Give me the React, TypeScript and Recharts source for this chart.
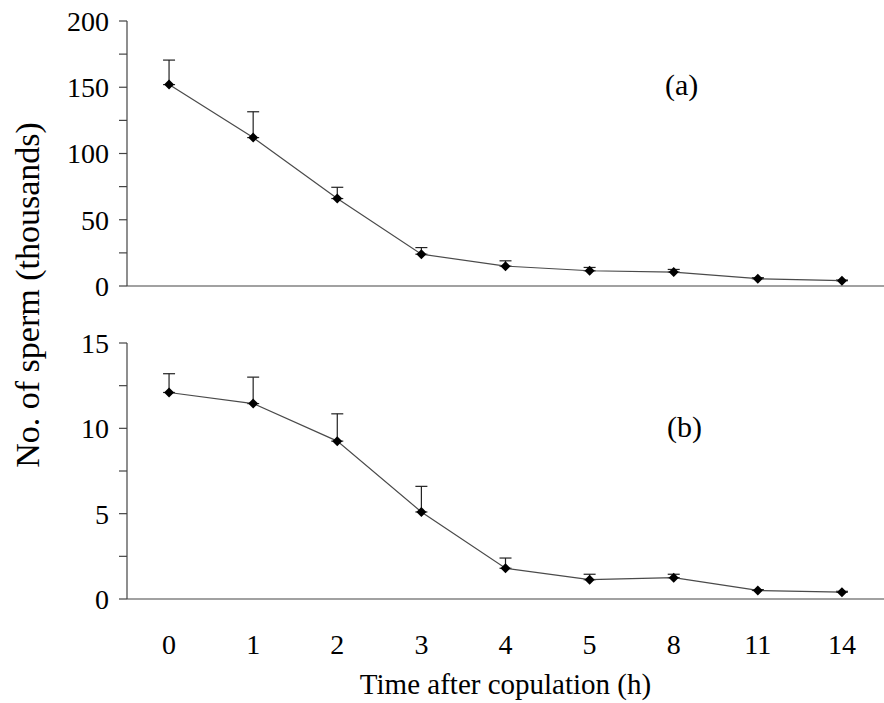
import { LineChart, Line, XAxis, YAxis, ErrorBar } from 'recharts';

// Hours after copulation (category labels along the bottom)
const hours = ['0', '1', '2', '3', '4', '5', '8', '11', '14'];

// Panel (a): sperm count, thousands, mean and +SE
const meanA = [152, 112, 66, 24, 15, 11.5, 10.5, 5.5, 4];
const errA = [18.5, 19.5, 8.5, 5, 4, 2.5, 2, 0.8, 0.5];

// Panel (b)
const meanB = [12.1, 11.45, 9.25, 5.1, 1.8, 1.13, 1.25, 0.5, 0.4];
const errB = [1.1, 1.55, 1.6, 1.5, 0.6, 0.32, 0.2, 0.05, 0.05];

const ticksA = [0, 25, 50, 75, 100, 125, 150, 175, 200];
const ticksB = [0, 2.5, 5, 7.5, 10, 12.5, 15];

const dataA = hours.map((h, i) => ({ idx: i, hour: h, mean: meanA[i], err: [0, errA[i]] }));
const dataB = hours.map((h, i) => ({ idx: i, hour: h, mean: meanB[i], err: [0, errB[i]] }));

// tick lines sit on the category boundaries, labels on the centres
const boundaryTicks = hours.map((_, i) => i - 0.5);
const centreTicks = hours.map((_, i) => i);

const FONT = '"Liberation Serif", "Times New Roman", serif';
const AXIS = '#444';

const Diamond = (props: any) => {
  const { cx, cy, index } = props;
  if (cx == null || cy == null) return null;
  const r = 5;
  return (
    <path
      key={`d-${index}`}
      d={`M${cx},${cy - r}L${cx + r},${cy}L${cx},${cy + r}L${cx - r},${cy}Z`}
      fill="#000"
      stroke="none"
    />
  );
};

function Panel({
  data,
  ticks,
  labelEvery,
  height,
  top,
  bottom,
  showLabels,
}: {
  data: any[];
  ticks: number[];
  labelEvery: number;
  height: number;
  top: number;
  bottom: number;
  showLabels: boolean;
}) {
  return (
    <LineChart
      width={884}
      height={height}
      data={data}
      margin={{ top, right: 0, left: 0, bottom }}
      style={{ fontFamily: FONT }}
    >
      <XAxis
        xAxisId="a_pos"
        dataKey="idx"
        type="number"
        domain={[-0.5, 8.5]}
        ticks={boundaryTicks}
        interval={0}
        tick={false}
        tickSize={9}
        height={14}
        axisLine={{ stroke: AXIS, strokeWidth: 1.2 }}
        tickLine={{ stroke: AXIS, strokeWidth: 1.2 }}
      />
      {showLabels && (
        <XAxis
          xAxisId="b_lab"
          dataKey="idx"
          type="number"
          domain={[-0.5, 8.5]}
          ticks={centreTicks}
          interval={0}
          tickFormatter={(v) => hours[v] ?? ''}
          tick={{ fill: '#000', fontSize: 28, fontFamily: FONT }}
          tickSize={0}
          tickMargin={21}
          height={90}
          axisLine={false}
          tickLine={false}
          label={{
            value: 'Time after copulation (h)',
            position: 'insideBottom',
            offset: 9,
            fill: '#000',
            fontSize: 29,
            fontFamily: FONT,
          }}
        />
      )}
      <YAxis
        domain={[ticks[0], ticks[ticks.length - 1]]}
        ticks={ticks}
        interval={0}
        width={127}
        tickSize={8}
        tickMargin={10}
        tickFormatter={(v) => (v % labelEvery === 0 ? String(v) : '')}
        tick={{ fill: '#000', fontSize: 28, fontFamily: FONT }}
        axisLine={{ stroke: AXIS, strokeWidth: 1.2 }}
        tickLine={{ stroke: AXIS, strokeWidth: 1.2 }}
      />
      <Line
        xAxisId="a_pos"
        dataKey="mean"
        type="linear"
        stroke="#4a4a4a"
        strokeWidth={1.2}
        dot={Diamond}
        activeDot={false}
        isAnimationActive={false}
      >
        <ErrorBar
          dataKey="err"
          direction="y"
          width={6}
          stroke="#222"
          strokeWidth={1.2}
          isAnimationActive={false}
        />
      </Line>
    </LineChart>
  );
}

export default function App() {
  return (
    <div style={{ position: 'relative', width: 884, height: 703, background: '#fff', fontFamily: FONT }}>
      <style>{`body { margin: 0; }`}</style>
      <div style={{ position: 'absolute', left: 0, top: 0 }}>
        <Panel data={dataA} ticks={ticksA} labelEvery={50} height={320} top={21} bottom={20} showLabels={false} />
      </div>
      <div style={{ position: 'absolute', left: 0, top: 300 }}>
        <Panel data={dataB} ticks={ticksB} labelEvery={5} height={403} top={43} bottom={0} showLabels />
      </div>
      <div style={{ position: 'absolute', left: 665, top: 68, fontSize: 30, color: '#000', fontFamily: FONT }}>(a)</div>
      <div style={{ position: 'absolute', left: 667, top: 410, fontSize: 30, color: '#000', fontFamily: FONT }}>(b)</div>
      <div
        style={{
          position: 'absolute',
          left: 28,
          top: 295,
          fontSize: 34,
          color: '#000',
          fontFamily: FONT,
          whiteSpace: 'nowrap',
          transform: 'translate(-50%, -50%) rotate(-90deg)',
        }}
      >
        No. of sperm (thousands)
      </div>
    </div>
  );
}
